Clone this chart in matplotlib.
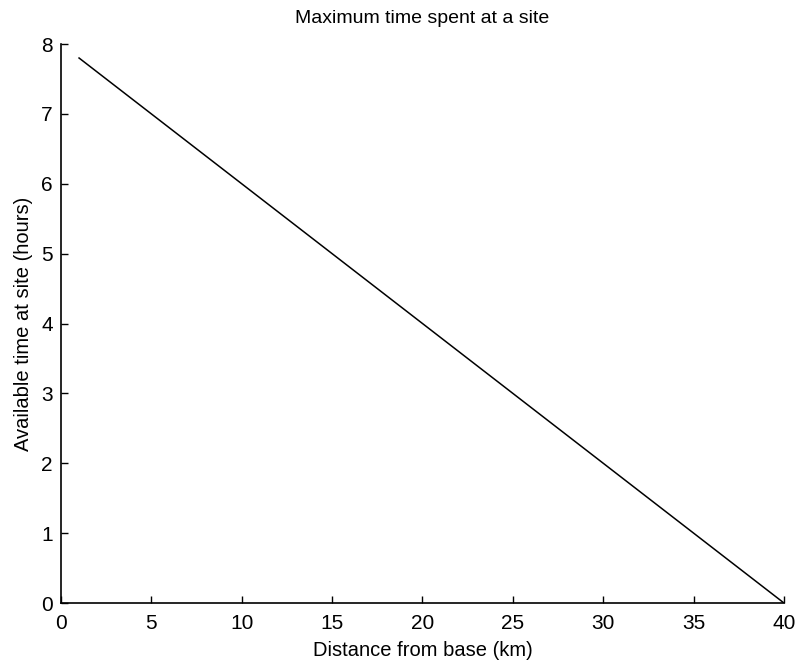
import matplotlib
matplotlib.use('Agg')
import matplotlib.pyplot as plt

# distance from base (km) and time left at the site (hours)
distance = [1, 40]
time_at_site = [7.8, 0]
xticks = [0, 5, 10, 15, 20, 25, 30, 35, 40]
yticks = [0, 1, 2, 3, 4, 5, 6, 7, 8]

plt.rcParams['font.family'] = ['Liberation Sans', 'DejaVu Sans']

fig = plt.figure(figsize=(7.97, 6.65), dpi=100)
ax = fig.add_axes([0.0765, 0.0932, 0.9072, 0.8406])
ax.plot(distance, time_at_site, color='black', linewidth=1.1)

ax.set_xlim(0, 40)
ax.set_ylim(0, 8)
ax.set_xticks(xticks)
ax.set_yticks(yticks)
ax.tick_params(direction='in', length=5, width=1, labelsize=15)
ax.tick_params(axis='x', pad=8)
ax.tick_params(axis='y', pad=6)
ax.spines['top'].set_visible(False)
ax.spines['right'].set_visible(False)
ax.spines['left'].set_linewidth(1.2)
ax.spines['bottom'].set_linewidth(1.2)

ax.set_xlabel('Distance from base (km)', fontsize=14.5, labelpad=6)
ax.set_ylabel('Available time at site (hours)', fontsize=14.5, labelpad=6)
ax.set_title('Maximum time spent at a site', fontsize=14, pad=15)

fig.savefig('out.png', dpi=100)
